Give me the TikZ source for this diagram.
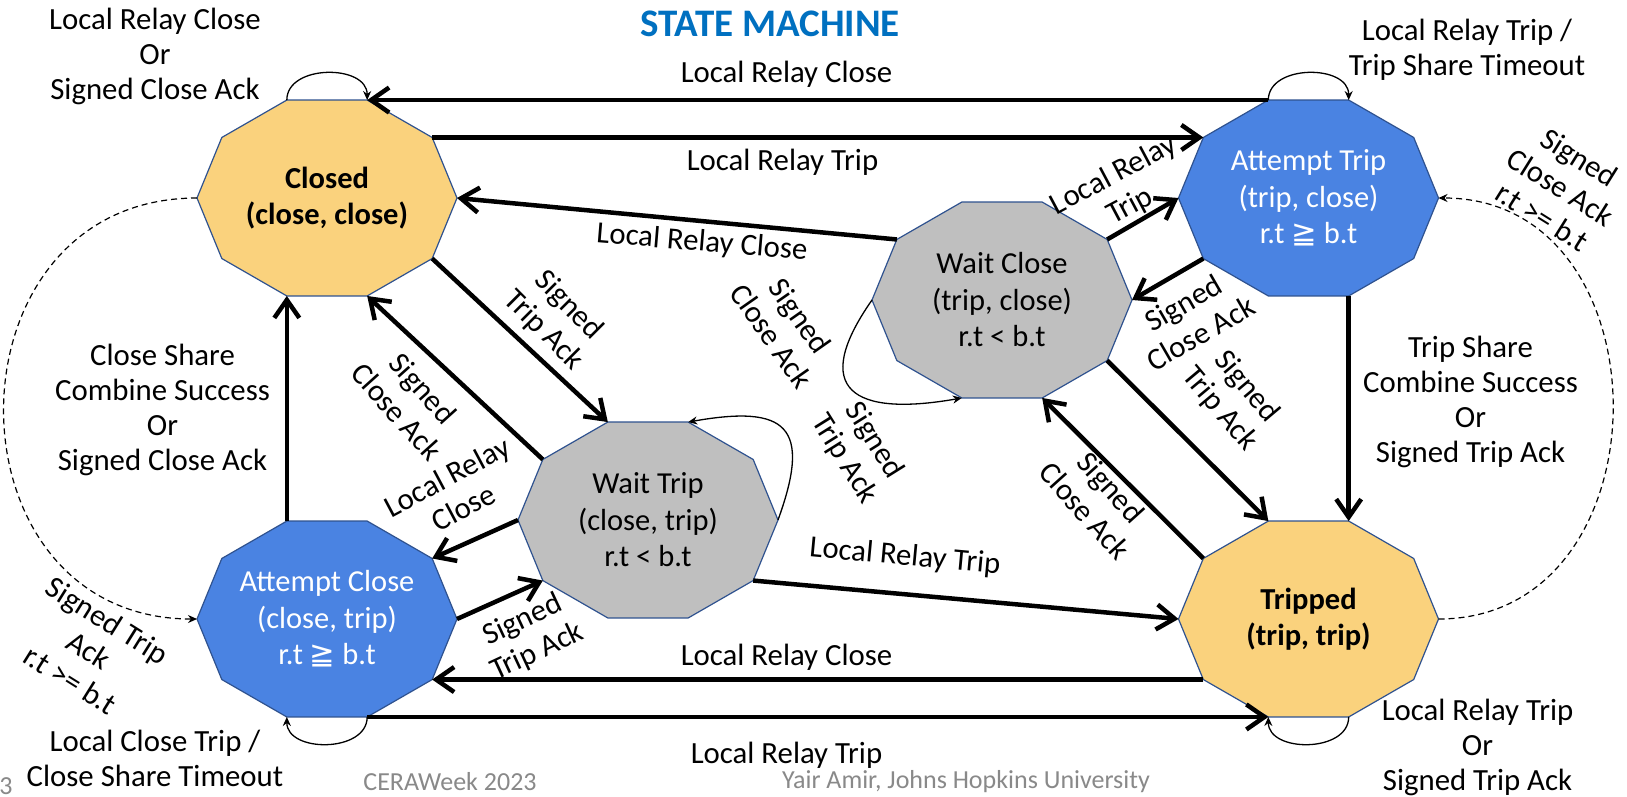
\documentclass[tikz,border=0pt]{standalone}
\usepackage{fontspec}
\setmainfont{Carlito}
\newfontfamily\symfont{DejaVu Sans}
\usetikzlibrary{arrows.meta,calc}
\definecolor{stYellow}{RGB}{250,210,125}
\definecolor{stBlue}{RGB}{74,131,226}
\definecolor{stGray}{RGB}{191,191,191}
\definecolor{stBorder}{RGB}{47,82,143}
\definecolor{titleBlue}{RGB}{0,112,192}
\definecolor{footGray}{RGB}{137,137,137}
\tikzset{
  lbl/.style={font=\fontsize{30.8}{35}\selectfont, align=center, inner sep=0pt},
  stxt/.style={font=\fontsize{30.5}{36.5}\selectfont, align=center, inner sep=0pt},
  wtxt/.style={stxt, text=white},
  foot/.style={font=\fontsize{26}{30}\selectfont, text=footGray, inner sep=0pt},
  statebox/.style={draw=stBorder, line width=1.2pt, line join=miter},
  tr/.style={line width=4.5pt, -{Straight Barb[length=18pt,width=25pt]}},
  loopst/.style={line width=1.3pt, -{Stealth[length=9pt,width=8pt]}},
  dashst/.style={line width=1.2pt, dash pattern=on 6pt off 4pt, -{Stealth[length=9pt,width=8pt]}},
}
% name, x, y, x-radius, fill, text style, text
\newcommand\mkstate[7]{%
  \foreach \a in {0,36,...,324}{\coordinate (#1-\a) at ($(#2,#3)+(\a:#4pt and 103pt)$);}
  \draw[statebox, fill=#5] (#1-0) -- (#1-36) -- (#1-72) -- (#1-108) -- (#1-144) -- (#1-180) -- (#1-216) -- (#1-252) -- (#1-288) -- (#1-324) -- cycle;
  \node[#6] (#1) at (#2,#3) {#7};
}
\begin{document}
\begin{tikzpicture}[x=1pt,y=1pt]
\useasboundingbox (0,0) rectangle (1627,-796);
\fill[white] (0,0) rectangle (1627,-796);

% states
\mkstate{C}{327}{-198}{130}{stYellow}{stxt}{\textbf{Closed}\\\textbf{(close, close)}}
\mkstate{AT}{1308.5}{-198}{130}{stBlue}{wtxt}{Attempt Trip\\(trip, close)\\r.t {\symfont ≧} b.t}
\mkstate{AC}{327}{-619}{130}{stBlue}{wtxt}{Attempt Close\\(close, trip)\\r.t {\symfont ≧} b.t}
\mkstate{TR}{1308.5}{-619}{130}{stYellow}{stxt}{\textbf{Tripped}\\\textbf{(trip, trip)}}
\mkstate{WT}{648}{-520}{130}{stGray}{stxt}{Wait Trip\\(close, trip)\\r.t < b.t}
\mkstate{WC}{1002}{-300}{130}{stGray}{stxt}{Wait Close\\(trip, close)\\r.t < b.t}

% title and footer
\node[font=\bfseries\fontsize{39}{46}\selectfont, text=titleBlue, inner sep=0pt] (title) at (770,-24) {STATE MACHINE};
\node[foot] (f1) at (450,-782) {CERAWeek 2023};
\node[foot] (f2) at (966,-782) {Yair Amir, Johns Hopkins University};
\node[foot] (f3) at (6,-786) {3};

% thick transitions
\draw[tr] (AT-108) -- (C-72);
\draw[tr] (C-36) -- (AT-144);
\draw[tr] (WC-144) -- (C-0);
\draw[tr] (C-324) -- (WT-108);
\draw[tr] (WT-144) -- (C-288);
\draw[tr] (AC-108) -- (C-252);
\draw[tr] (WT-180) -- (AC-36);
\draw[tr] (AC-0) -- (WT-216);
\draw[tr] (TR-216) -- (AC-324);
\draw[tr] (AC-288) -- (TR-252);
\draw[tr] (WT-324) -- (TR-180);
\draw[tr] (WC-36) -- (AT-180);
\draw[tr] (AT-216) -- (WC-0);
\draw[tr] (WC-324) -- (TR-108);
\draw[tr] (TR-144) -- (WC-288);
\draw[tr] (AT-288) -- (TR-72);

% self loops
\draw[loopst] (C-108) to[out=90,in=90,distance=36pt] (C-72);
\draw[loopst] (AT-108) to[out=90,in=90,distance=36pt] (AT-72);
\draw[loopst] (AC-288) to[out=-90,in=-90,distance=36pt] (AC-252);
\draw[loopst] (TR-288) to[out=-90,in=-90,distance=36pt] (TR-252);
\draw[loopst] (WT-0) to[out=70,in=10,distance=100pt] (WT-72);
\draw[loopst] (WC-180) to[out=235,in=190,distance=110pt] (WC-252);

% dashed arcs
\draw[dashst] (C-180) to[out=180,in=180,distance=257pt] (AC-180);
\draw[dashst] (TR-0) to[out=0,in=0,distance=232pt] (AT-0);

% labels
\node[lbl] (t1) at (786.5,-74) {Local Relay Close};
\node[lbl] (t2) at (782.5,-162) {Local Relay Trip};
\node[lbl, rotate=-4.7] (t3) at (702,-243) {Local Relay Close};
\node[lbl, rotate=-45] (t4) at (556,-318) {Signed\\Trip Ack};
\node[lbl, rotate=-48] (t5) at (410,-400) {Signed\\Close Ack};
\node[lbl, rotate=28] (t6) at (455,-492) {Local Relay\\Close};
\node[lbl, rotate=25] (t7) at (530,-636) {Signed\\Trip Ack};
\node[lbl] (t8) at (786.5,-657) {Local Relay Close};
\node[lbl] (t9) at (786.5,-755) {Local Relay Trip};
\node[lbl, rotate=-5.3] (t10) at (905,-557) {Local Relay Trip};
\node[lbl, rotate=-55] (t11) at (786,-326) {Signed\\Close Ack};
\node[lbl, rotate=-58] (t12) at (859,-450) {Signed\\Trip Ack};
\node[lbl, rotate=28] (t13) at (1122,-191) {Local Relay\\Trip};
\node[lbl, rotate=30] (t14) at (1192,-318) {Signed\\Close Ack};
\node[lbl, rotate=-50] (t15) at (1233,-398) {Signed\\Trip Ack};
\node[lbl, rotate=-48] (t16) at (1098,-499) {Signed\\Close Ack};
\node[lbl] (t17) at (1470.5,-402) {Trip Share\\Combine Success\\Or\\Signed Trip Ack};
\node[lbl] (t18) at (162.5,-410) {Close Share\\Combine Success\\Or\\Signed Close Ack};
\node[lbl] (t19) at (155,-56) {Local Relay Close\\Or\\Signed Close Ack};
\node[lbl] (t20) at (1467,-50) {Local Relay Trip /\\Trip Share Timeout};
\node[lbl] (t21) at (155,-758) {Local Close Trip /\\Close Share Timeout};
\node[lbl] (t22) at (1477.5,-747) {Local Relay Trip\\Or\\Signed Trip Ack};
\node[lbl, rotate=-32] (t23) at (89,-650) {Signed Trip\\Ack\\r.t >= b.t};
\node[lbl, rotate=-32] (t24) at (1561,-187) {Signed\\Close Ack\\r.t >= b.t};
\end{tikzpicture}
\end{document}
